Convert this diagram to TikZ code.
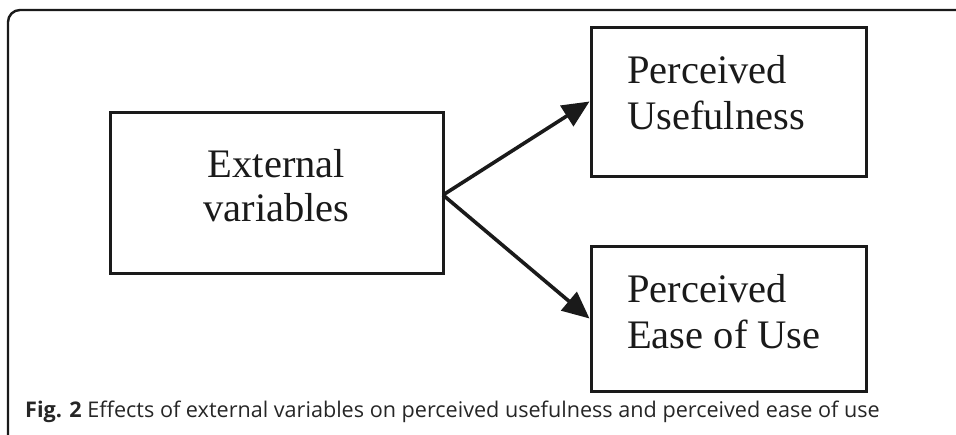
\documentclass[tikz,border=0pt]{standalone}
\usepackage{fontspec}
\setmainfont{Liberation Serif}
\newfontfamily\capfont{Open Sans}
\usetikzlibrary{arrows.meta}
\definecolor{ink}{HTML}{1A1A1A}
\begin{document}
\begin{tikzpicture}[x=1pt,y=-1pt,
  box/.style={draw=ink, line width=3pt, inner sep=0pt},
  lbl/.style={font=\fontsize{40.5}{46}\selectfont, inner sep=0pt, text=ink},
  link/.style={draw=ink, line width=3.6pt, -{Triangle[length=27pt,width=24pt]}},
  frame/.style={draw=ink, line width=2.4pt, rounded corners=12pt}]
\useasboundingbox (0,0) rectangle (956,434);

% outer figure frame (top and left sides)
\draw[frame] (8,440) -- (8,10) -- (962,10);

% boxes
\node[box, minimum width=333pt, minimum height=161pt] (ext) at (276.5,192.5) {};
\node[box, minimum width=275pt, minimum height=149pt] (pu) at (728.5,101.5) {};
\node[box, minimum width=275pt, minimum height=145pt] (pe) at (728.5,318.5) {};

% box labels
\node[lbl, anchor=base] (ext1) at (276.5,177) {External};
\node[lbl, anchor=base] (ext2) at (276.5,221) {variables};
\node[lbl, anchor=base west] (pu1) at (627,83) {Perceived};
\node[lbl, anchor=base west] (pu2) at (627,129) {Usefulness};
\node[lbl, anchor=base west] (pe1) at (627,302) {Perceived};
\node[lbl, anchor=base west] (pe2) at (627,348) {Ease of Use};

% connectors
\coordinate (src) at (443,195);
\draw[link] (src) -- (pu.west);
\draw[link] (src) -- (pe.west);

% caption
\node[anchor=base west, inner sep=0pt, text=black!85,
      font=\capfont\fontsize{21.6}{24}\selectfont] (cap) at (25,417)
  {\textbf{Fig. 2} Effects of external variables on perceived usefulness and perceived ease of use};
\end{tikzpicture}
\end{document}
